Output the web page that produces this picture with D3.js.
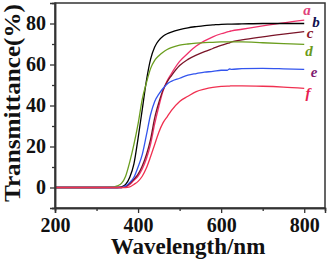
<!DOCTYPE html>
<html><head><meta charset="utf-8">
<script src="https://cdn.jsdelivr.net/npm/d3@7"></script>
<style>body{margin:0;background:#fff}svg{display:block}</style>
</head><body>
<script>
const wavelengths = [200,300,340,350,360,370,380,390,400,410,420,430,440,450,460,470,480,500,520,540,560,580,600,615,620,625,650,700,750,800];
const seriesA = [0,0,0,0,0,0.3,1.5,3.5,5.5,9,14,21,31,39.5,47,52,55.5,61.5,65.5,69,71.5,73.5,75,75.9,76.2,76.4,77.2,78.8,80.3,81.6];
const seriesB = [0,0,0,0,0.3,1.5,5,11.5,24,38,52,62.5,68.5,71.8,73.8,75,75.8,77,77.9,78.5,79,79.3,79.6,79.7,79.7,79.7,79.8,80,80,80];
const seriesC = [0,0,0,0,0,0.5,2,4,6.5,10.5,16,23.5,34,41.5,47.5,51.5,54.5,59.5,62.5,64.6,66.3,67.8,69.3,70.3,70.6,71,72,73.5,74.8,76];
const seriesD = [0,0,0.2,0.8,2,5.5,12.5,21,31,43,51,58,62,64.3,66,67.3,68.2,69.4,70,70.4,70.7,70.8,71,71,71,71,71,70.6,70.2,69.8];
const seriesE = [0,0,0,0,0,0.8,2.5,5,10,16,25.5,35.5,42,45.5,48.3,50.5,51.8,53.3,54.8,55.6,56.3,56.6,57.2,57.2,57.8,57.6,58,58.1,57.9,57.6];
const seriesF = [0,0,0,0,0,0,0.3,1.5,3,5.5,9.5,15,21,27,31.5,34.5,37.5,42,44.5,46.8,48,48.8,49.3,49.5,49.5,49.6,49.6,49.4,49,48.4];
const seriesNames = ["a","b","c","d","e","f"];
const lineColors = ["#f0306a","#000000","#7a1428","#6b9e1f","#3355ee","#f03050"];
const labelColors = ["#e0407a","#101050","#8b1a2a","#6b9a1a","#801a70","#e82050"];
const xTicks = [200,400,600,800];
const xMinor = [300,500,700];
const yTicks = [0,20,40,60,80];
const yMinor = [-10,10,30,50,70];

const W=327,H=262;
const m={l:55,r:2,t:3,b:54};
const svg=d3.select("body").append("svg").attr("width",W).attr("height",H);
const x=d3.scaleLinear().domain([200,850]).range([m.l,W-m.r]);
const y=d3.scaleLinear().domain([-10,90]).range([H-m.b,m.t]);
const font="'Liberation Serif','Times New Roman',serif";

// curves
const all=[seriesA,seriesB,seriesC,seriesD,seriesE,seriesF];
const line=d3.line().x(d=>x(d[0])).y(d=>y(d[1])).curve(d3.curveMonotoneX);
all.forEach((s,i)=>{
  svg.append("path").datum(wavelengths.map((w,j)=>[w,s[j]]))
    .attr("d",line).attr("fill","none").attr("stroke",lineColors[i]).attr("stroke-width",1.3);
});

// frame
svg.append("rect").attr("x",x(200)).attr("y",y(90)).attr("width",x(850)-x(200)).attr("height",y(-10)-y(90))
  .attr("fill","none").attr("stroke","#333").attr("stroke-width",1.5);

// axes
svg.append("g").attr("transform",`translate(0,${y(-10)})`)
  .call(d3.axisBottom(x).tickValues(xTicks).tickSize(5).tickPadding(5).tickFormat(d3.format("d")));
svg.append("g").attr("transform",`translate(0,${y(-10)})`)
  .call(d3.axisBottom(x).tickValues(xMinor).tickSize(3).tickFormat(""));
svg.append("g").attr("transform",`translate(${x(200)},0)`)
  .call(d3.axisLeft(y).tickValues(yTicks).tickSize(5).tickPadding(4).tickFormat(d3.format("d")));
svg.append("g").attr("transform",`translate(${x(200)},0)`)
  .call(d3.axisLeft(y).tickValues(yMinor).tickSize(3).tickFormat(""));
svg.selectAll(".domain").attr("stroke","#333").attr("stroke-width",1.5);
svg.selectAll(".tick line").attr("stroke","#333").attr("stroke-width",1.3);
svg.selectAll(".tick text").attr("font-family",font).attr("font-weight","bold").attr("font-size",20).attr("fill","#111");

// titles
svg.append("text").attr("x",188).attr("y",254).attr("text-anchor","middle")
  .attr("font-family",font).attr("font-weight","bold").attr("font-size",23).attr("fill","#111").text("Wavelength/nm");
svg.append("text").attr("transform","translate(20,103) rotate(-90)").attr("text-anchor","middle")
  .attr("textLength",198).attr("lengthAdjust","spacingAndGlyphs")
  .attr("font-family",font).attr("font-weight","bold").attr("font-size",24).attr("fill","#111").text("Transmittance(%)");

// labels
const labelPos=[[307,15],[316,27],[310,38],[309,56],[314,77],[308,98]];
seriesNames.forEach((n,i)=>{
  svg.append("text").attr("x",labelPos[i][0]).attr("y",labelPos[i][1]).attr("text-anchor","middle")
    .attr("font-family",font).attr("font-weight","bold").attr("font-style","italic").attr("font-size",15)
    .attr("fill",labelColors[i]).text(n);
});
</script>
</body></html>
